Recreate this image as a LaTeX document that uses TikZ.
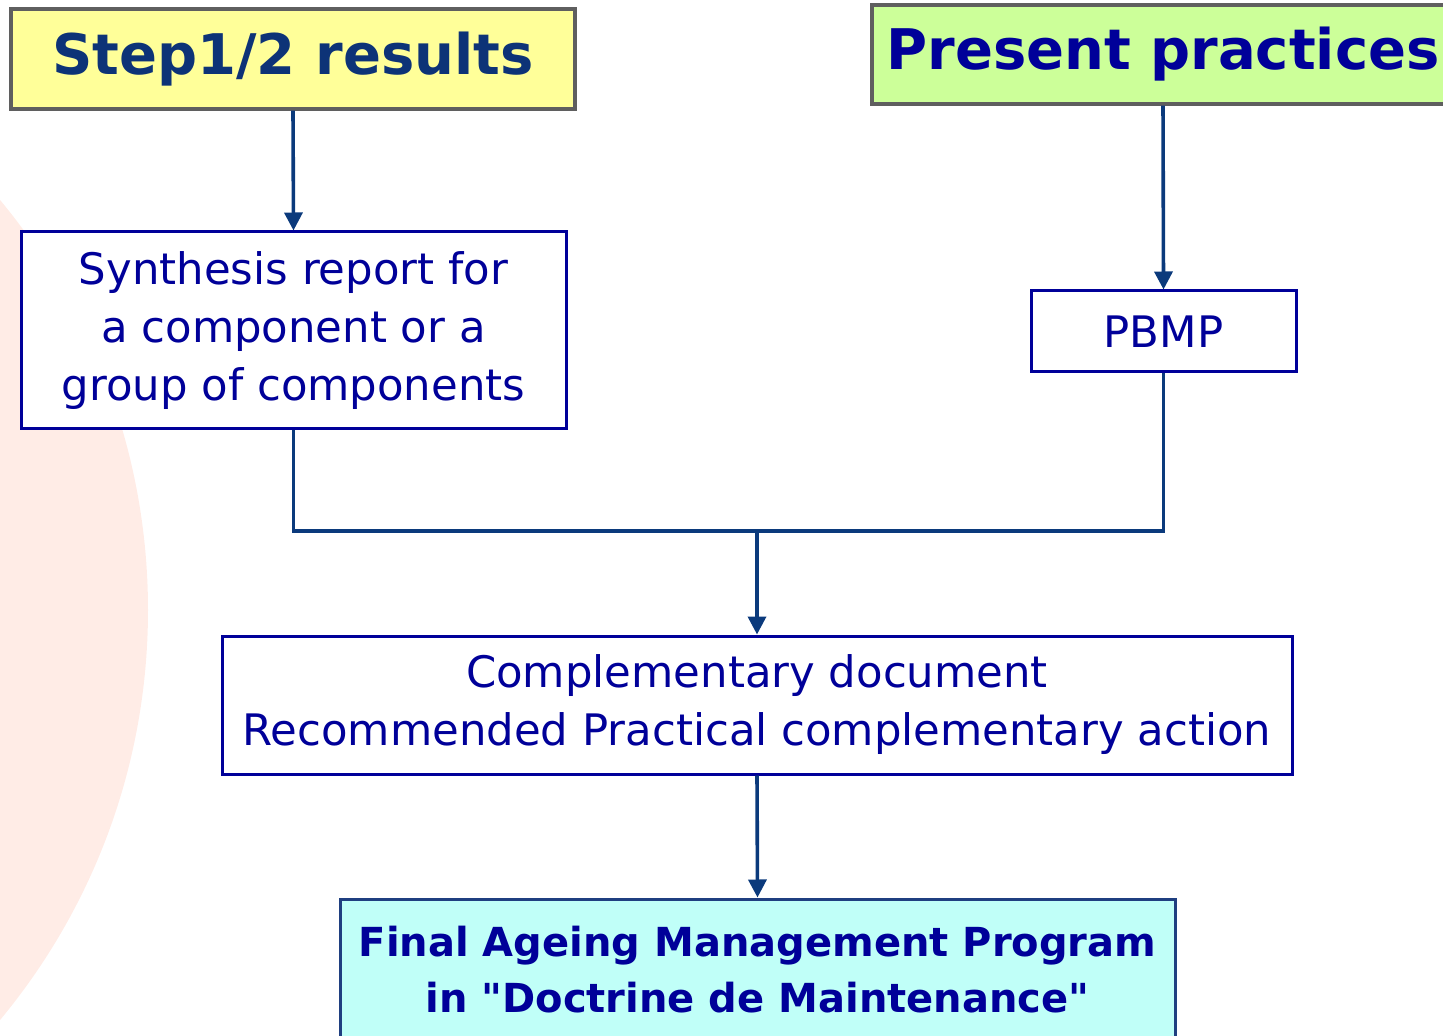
\documentclass[tikz,border=0pt]{standalone}
\usepackage{fontspec}
\setmainfont{DejaVu Sans}
\newfontfamily\finalfont{DejaVu Sans}
\usetikzlibrary{arrows.meta}
\definecolor{navytext}{HTML}{000099}
\definecolor{steptext}{HTML}{0D3377}
\definecolor{linkblue}{HTML}{0B3A7C}
\definecolor{stepfill}{HTML}{FFFF99}
\definecolor{practfill}{HTML}{CCFF99}
\definecolor{finalfill}{HTML}{C0FFF8}
\definecolor{finalframe}{HTML}{1F3F80}
\definecolor{framegray}{HTML}{5F5F5F}
\definecolor{blush}{HTML}{FFECE6}

\begin{document}
\begin{tikzpicture}[x=0.5pt,y=-0.5pt,header/.style={draw=framegray,line width=1.6pt,inner sep=0pt,font=\fontsize{28}{32}\selectfont\bfseries},task/.style={draw=navytext,line width=1.5pt,fill=white,inner sep=0pt,align=center,text=navytext,font=\fontsize{21.7}{29}\selectfont},link/.style={draw=linkblue,line width=1.8pt},flow/.style={link,-{Triangle[width=9pt,length=9pt]}}]
\useasboundingbox (0,0) rectangle (1443,1036);
\clip (0,0) rectangle (1443,1036);
\fill[blush] (-494,610) circle (321pt);
\coordinate (S) at (293,59);
\coordinate (P) at (1163,54.5);
\coordinate (R) at (293.5,330.5);
\coordinate (B) at (1163.5,331.5);
\coordinate (J) at (757,531);
\coordinate (C) at (757,705);
\coordinate (F) at (757.5,970);
\node[header,fill=stepfill,text=steptext,minimum width=282pt,minimum height=50pt] (step) at (S) {Step1/2 results};
\node[header,fill=practfill,text=navytext,minimum width=291pt,minimum height=49.5pt] (pract) at (P) {Present practices};
\node[task,minimum width=272.5pt,minimum height=98.5pt] (synth) at (R) {Synthesis report for\\a component or a\\group of components};
\node[task,minimum width=132.5pt,minimum height=40.5pt] (pbmp) at (B) {PBMP};
\node[task,minimum width=535pt,minimum height=69pt] (compl) at (C) {Complementary document\\Recommended Practical complementary action};
\node[task,draw=finalframe,fill=finalfill,font=\finalfont\fontsize{20}{28}\selectfont\bfseries,minimum width=417.5pt,minimum height=71pt] (final) at (F) {Final Ageing Management Program\\in "Doctrine de Maintenance"};
\draw[flow] (step.south) -- (synth.north);
\draw[flow] (pract.south) -- (pbmp.north);
\draw[link] (synth.south) |- (J) -| (pbmp.south);
\draw[flow] (J) -- (compl.north);
\draw[flow] (compl.south) -- (final.north);
\end{tikzpicture}
\end{document}
